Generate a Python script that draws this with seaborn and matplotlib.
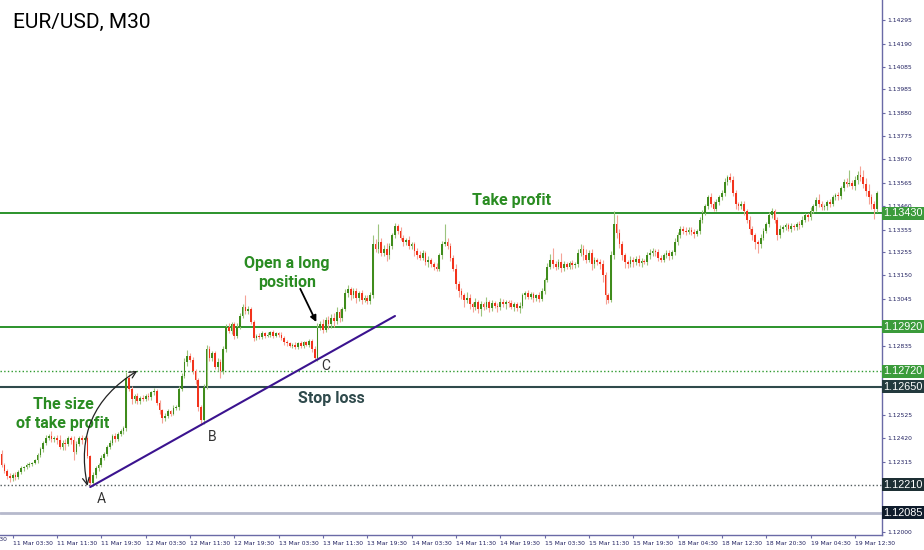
import numpy as np
import matplotlib
matplotlib.use("Agg")
import matplotlib.pyplot as plt
import matplotlib.transforms as mtransforms
from matplotlib.patches import Rectangle
import seaborn as sns

# closes in 1e-5 units above 1.12000, one value per 30-minute bar
first_open = 350
close = [
    300, 275, 250, 240, 255, 245, 270, 285, 290, 300,
    305, 310, 320, 345, 370, 400, 420, 430, 415, 420,
    410, 380, 400, 395, 420, 410, 360, 395, 420, 410,
    420, 340, 220, 255, 285, 300, 330, 350, 380, 400,
    430, 415, 440, 450, 465, 690, 640, 595, 610, 585,
    600, 595, 610, 605, 625, 630, 580, 545, 510, 520,
    540, 530, 555, 560, 640, 700, 760, 790, 770, 720,
    680, 560, 500, 650, 820, 780, 800, 740, 760, 720,
    820, 920, 900, 930, 880, 920, 970, 1010, 990, 1000,
    940, 870, 880, 875, 890, 880, 885, 895, 880, 890,
    885, 870, 850, 845, 835, 840, 830, 845, 835, 850,
    840, 855, 820, 780, 915, 930, 905, 950, 930, 960,
    945, 985, 960, 1000, 1070, 1090, 1060, 1080, 1050, 1070,
    1040, 1050, 1035, 1060, 1290, 1270, 1300, 1250, 1270, 1240,
    1280, 1330, 1370, 1350, 1320, 1300, 1310, 1280, 1290, 1260,
    1240, 1230, 1250, 1210, 1220, 1200, 1190, 1180, 1240, 1290,
    1300, 1280, 1230, 1180, 1110, 1080, 1060, 1040, 1050, 1020,
    1010, 1030, 1000, 1020, 1010, 1030, 1005, 1025, 1015, 1010,
    1030, 1020, 1030, 1025, 1010, 1020, 1005, 1015, 1060, 1070,
    1055, 1065, 1050, 1060, 1045, 1080, 1130, 1190, 1220, 1200,
    1190, 1210, 1185, 1200, 1190, 1205, 1195, 1200, 1250, 1270,
    1240, 1220, 1250, 1200, 1220, 1210, 1200, 1150, 1060, 1040,
    1240, 1380, 1340, 1290, 1240, 1210, 1200, 1220, 1210, 1225,
    1205, 1215, 1210, 1240, 1250, 1260, 1255, 1230, 1220, 1240,
    1250, 1235, 1255, 1300, 1330, 1360, 1350, 1345, 1355, 1345,
    1335, 1350, 1400, 1430, 1460, 1500, 1470, 1450, 1480, 1500,
    1520, 1570, 1590, 1580, 1520, 1470, 1460, 1470, 1440, 1400,
    1360, 1330, 1300, 1290, 1320, 1350, 1380, 1420, 1440, 1400,
    1330, 1360, 1365, 1375, 1360, 1370, 1365, 1380, 1375, 1400,
    1420, 1410, 1440, 1460, 1490, 1470, 1455, 1460, 1480, 1470,
    1500, 1510, 1505, 1540, 1570, 1560, 1565, 1550, 1580, 1600,
    1590, 1560, 1530, 1500, 1470, 1450, 1520,
]
upper_wick = [
    15, 10, 8, 12, 10, 15, 8, 10, 6, 8, 10, 5, 8, 10, 12, 8, 15, 10, 20, 8,
    12, 25, 10, 15, 8, 10, 20, 12, 8, 15, 10, 8, 5, 12, 10, 8, 15, 10, 8, 12,
    10, 15, 8, 12, 10, 25, 20, 15, 10, 12, 8, 15, 10, 12, 8, 15, 10, 12, 8, 15,
    10, 8, 12, 10, 15, 12, 20, 25, 10, 15, 12, 10, 8, 15, 20, 15, 10, 12, 20, 15,
    12, 10, 15, 10, 12, 15, 10, 12, 50, 15, 10, 12, 8, 10, 12, 8, 10, 6, 10, 8,
    6, 10, 8, 10, 8, 6, 10, 8, 10, 6, 8, 10, 8, 12, 20, 15, 25, 15, 20, 15,
    20, 25, 15, 10, 20, 15, 10, 15, 12, 10, 15, 10, 12, 15, 40, 25, 80, 20, 15, 25,
    15, 12, 15, 10, 15, 12, 10, 15, 12, 10, 15, 20, 12, 10, 15, 10, 12, 15, 10, 15,
    80, 20, 15, 10, 20, 15, 12, 10, 25, 15, 12, 20, 10, 15, 12, 25, 10, 15, 12, 10,
    20, 15, 10, 12, 15, 10, 12, 15, 10, 12, 15, 10, 12, 8, 15, 12, 10, 15, 25, 55,
    15, 12, 40, 15, 12, 10, 15, 12, 20, 20, 15, 30, 15, 20, 12, 10, 15, 20, 15, 10,
    20, 60, 40, 20, 15, 12, 10, 15, 12, 10, 15, 12, 10, 15, 20, 12, 10, 15, 12, 10,
    15, 12, 10, 20, 15, 12, 10, 15, 12, 10, 15, 10, 12, 15, 10, 10, 20, 15, 12, 10,
    12, 15, 10, 20, 15, 12, 10, 15, 12, 10, 15, 10, 12, 10, 15, 12, 10, 15, 12, 10,
    12, 15, 10, 12, 10, 15, 12, 10, 12, 15, 10, 12, 15, 10, 12, 25, 15, 12, 10, 15,
    12, 10, 15, 10, 12, 15, 60, 12, 15, 20, 40, 35, 25, 30, 15, 12, 10,
]
lower_wick = [
    10, 12, 15, 15, 10, 12, 8, 10, 12, 8, 10, 12, 8, 10, 8, 10, 12, 8, 10, 12,
    15, 10, 12, 30, 10, 15, 40, 12, 10, 15, 12, 10, 19, 15, 12, 10, 8, 10, 12, 8,
    10, 12, 8, 10, 12, 15, 10, 20, 15, 10, 12, 8, 10, 12, 15, 10, 12, 15, 20, 12,
    10, 12, 8, 10, 15, 10, 12, 15, 10, 12, 15, 20, 20, 15, 10, 12, 15, 10, 20, 30,
    12, 15, 10, 12, 15, 10, 12, 10, 15, 12, 10, 15, 8, 10, 12, 10, 8, 10, 12, 8,
    10, 8, 12, 10, 8, 12, 10, 8, 10, 12, 8, 10, 12, 10, 15, 12, 15, 10, 20, 15,
    25, 12, 20, 15, 10, 15, 20, 12, 25, 15, 20, 10, 15, 12, 10, 15, 20, 12, 15, 25,
    15, 12, 10, 15, 12, 20, 15, 12, 10, 25, 15, 12, 10, 15, 20, 12, 15, 10, 12, 15,
    10, 12, 15, 12, 20, 25, 15, 30, 15, 20, 25, 15, 20, 30, 15, 12, 20, 15, 12, 25,
    15, 12, 20, 15, 12, 20, 15, 25, 12, 15, 10, 12, 20, 15, 12, 10, 15, 10, 12, 15,
    15, 12, 20, 15, 12, 10, 15, 12, 10, 15, 20, 15, 12, 25, 15, 12, 20, 30, 40, 15,
    10, 15, 20, 15, 20, 25, 15, 12, 20, 15, 12, 15, 10, 12, 15, 12, 20, 15, 12, 10,
    12, 15, 10, 12, 15, 10, 12, 15, 10, 12, 15, 10, 12, 15, 10, 12, 15, 10, 12, 15,
    10, 12, 15, 10, 12, 20, 15, 12, 20, 15, 25, 20, 30, 40, 15, 12, 10, 15, 12, 15,
    20, 12, 15, 10, 12, 15, 10, 12, 15, 10, 12, 15, 10, 12, 20, 15, 12, 10, 15, 12,
    10, 12, 15, 10, 12, 15, 10, 12, 15, 20, 15, 20, 25, 30, 20, 45, 15,
]

xtick_pos = [4 + 16 * k for k in range(20)]
xtick_labels = [
    "11 Mar 03:30", "11 Mar 11:30", "11 Mar 19:30", "12 Mar 03:30", "12 Mar 11:30",
    "12 Mar 19:30", "13 Mar 03:30", "13 Mar 11:30", "13 Mar 19:30", "14 Mar 03:30",
    "14 Mar 11:30", "14 Mar 19:30", "15 Mar 03:30", "15 Mar 11:30", "15 Mar 19:30",
    "18 Mar 04:30", "18 Mar 12:30", "18 Mar 20:30", "19 Mar 04:30", "19 Mar 12:30",
]
ytick_vals = [
    1.12000, 1.12105, 1.12210, 1.12315, 1.12420, 1.12525, 1.12630, 1.12735,
    1.12835, 1.12940, 1.13045, 1.13150, 1.13255, 1.13355, 1.13460, 1.13565,
    1.13670, 1.13775, 1.13880, 1.13985, 1.14085, 1.14190, 1.14295,
]
# scale labels that sit fully under a price box
hidden_ticks = [1.12210, 1.12630, 1.12735, 1.12940]

# horizontal levels: (price, colour, style, width, label box colour)
levels = [
    (1.13430, "#1a8a1a", "-", 1.3, "#3b9b3b"),
    (1.12920, "#1a8a1a", "-", 1.3, "#3b9b3b"),
    (1.12720, "#2e9a2e", ":", 1.0, "#3b9b3b"),
    (1.12650, "#2f4a4c", "-", 1.5, "#233a3e"),
    (1.12210, "#505a5c", ":", 1.0, "#1d2f34"),
    (1.12085, "#b6b9cc", "-", 2.0, "#0f1c2c"),
]

trend_x = [32, 142]
trend_y = [1.12201, 1.12968]

GREEN_TXT = "#2a8c22"

sns.set_theme(style="white")
plt.rcParams["font.family"] = ["DejaVu Sans"]

c = np.array(close, dtype=float)
o = np.r_[first_open, c[:-1]]
hi = np.maximum(o, c) + np.array(upper_wick)
lo = np.minimum(o, c) - np.array(lower_wick)
to_price = lambda v: 1.12 + np.asarray(v) / 1e5
c, o, hi, lo = to_price(c), to_price(o), to_price(hi), to_price(lo)
x = np.arange(len(c))
up = c >= o

fig = plt.figure(figsize=(9.24, 5.5), dpi=100)
ax = fig.add_axes([0, 15 / 550, 882 / 924, 535 / 550])
ax.set_xlim(-0.58, 317.8)
ax.set_ylim(1.119857, 1.143854)

for price, col, ls, lw, _ in levels:
    ax.axhline(price, color=col, ls=ls, lw=lw, zorder=1)

wick_cols = np.where(up, "#9cc47e", "#f5a396")
body_cols = np.where(up, "#3f8c1c", "#f2331c")
ax.vlines(x, lo, hi, colors=wick_cols, lw=0.8, zorder=2)
body_h = np.maximum(np.abs(c - o), 0.00003)
ax.bar(x, body_h, bottom=np.minimum(o, c), width=0.62, color=body_cols,
       linewidth=0, zorder=3)

sns.lineplot(x=trend_x, y=trend_y, color="#3b138f", lw=1.5, ax=ax, zorder=4)

# curved two-headed arrow and entry arrow
ax.annotate("", xy=(49, 1.12722), xytext=(31, 1.12206),
            arrowprops=dict(arrowstyle="<->", color="#222222", lw=0.9,
                            connectionstyle="arc3,rad=-0.35",
                            shrinkA=0, shrinkB=0), zorder=5)
ax.annotate("", xy=(113.6, 1.12941), xytext=(107.8, 1.13090),
            arrowprops=dict(arrowstyle="-|>", color="black", lw=1.3,
                            mutation_scale=9, shrinkA=0, shrinkB=0), zorder=5)

bold = dict(family="Roboto", fontweight="bold", fontsize=11.5, color=GREEN_TXT,
            ha="center", va="center", linespacing=1.35)
ax.text(184, 1.13488, "Take profit", **bold)
ax.text(103, 1.13161, "Open a long\nposition", **bold)
ax.text(22.2, 1.12528, "The size\nof take profit", **bold)
ax.text(119, 1.12596, "Stop loss", **{**bold, "color": "#2f4a4c"})
for lab, bx, by in [("A", 35.9, 1.12147), ("B", 76, 1.12425), ("C", 117, 1.12744)]:
    ax.text(bx, by, lab, family="Roboto", fontsize=10, color="#333333",
            ha="center", va="center")

# axes styling
for side in ["top", "left"]:
    ax.spines[side].set_visible(False)
for side in ["right", "bottom"]:
    ax.spines[side].set_color("#6a6aa6")
    ax.spines[side].set_linewidth(1.0)
ax.yaxis.tick_right()
ax.set_yticks(ytick_vals)
ax.set_yticklabels(["" if v in hidden_ticks else f"{v:.5f}" for v in ytick_vals])
ax.set_xticks(xtick_pos)
ax.set_xticklabels(xtick_labels, ha="left")
ax.tick_params(axis="both", labelsize=4.3, colors="#6a6aa6", labelcolor="#1f1f5f",
               length=2.5, width=0.8, pad=1.5, direction="out")
ax.tick_params(axis="y", right=True, left=False)
ax.tick_params(axis="x", bottom=True)
ax.grid(False)
ax.text(-12.6, -0.004, "10 Mar 19:30", transform=mtransforms.blended_transform_factory(
    ax.transData, ax.transAxes), fontsize=4.3, color="#1f1f5f", ha="left",
    va="top", clip_on=False)

# price boxes on the right scale
trans = mtransforms.blended_transform_factory(ax.transAxes, ax.transData)
box_h = 13 / 22295
for price, _, _, _, boxcol in levels:
    ax.add_patch(Rectangle((1.0, price - box_h / 2), 42 / 882, box_h, transform=trans,
                           facecolor=boxcol, edgecolor="none", clip_on=False, zorder=6))
    ax.text(1.0 + 21 / 882, price, f"{price:.5f}", transform=trans, color="white",
            family="Liberation Sans", fontsize=7.8, ha="center", va="center",
            clip_on=False, zorder=7)

fig.text(13 / 924, 1 - 22 / 550, "EUR/USD, M30", family="Roboto", fontsize=15,
         color="black", ha="left", va="center")

fig.savefig("out.png", dpi=100)
